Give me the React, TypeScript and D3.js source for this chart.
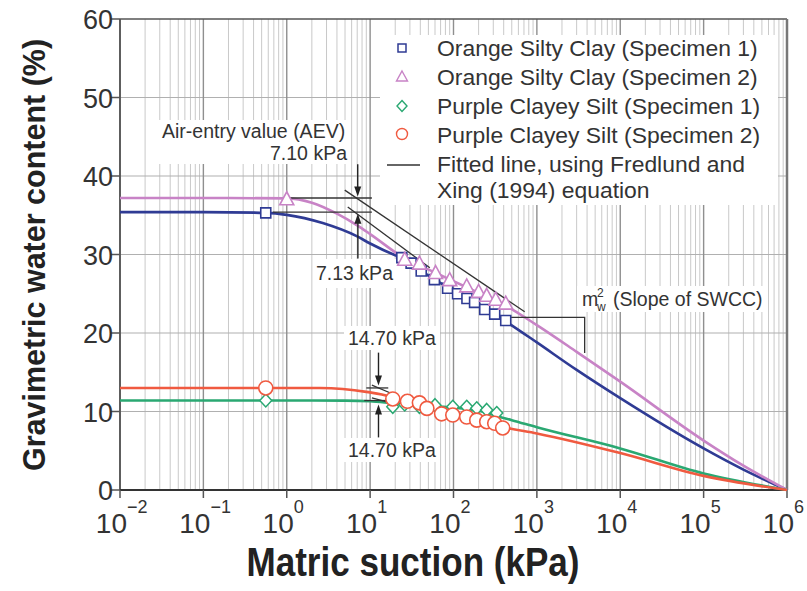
import React from 'react';
import * as d3 from 'd3';

// ---------- data (kPa, %) ----------
const blueCurve: [number, number][] = [
  [0.01, 35.4], [0.1, 35.4], [0.56, 35.3], [1, 35.05], [2.7, 34.0], [7, 32.3], [10, 31.4],
  [20, 29.9], [25, 29.5], [50, 27.3], [100, 25.4], [200, 23.7], [450, 21.3], [1000, 18.8],
  [3000, 15.3], [1e4, 11.7], [1e5, 5.3], [3e5, 2.6], [1e6, 0],
];
const pinkCurve: [number, number][] = [
  [0.01, 37.2], [0.1, 37.2], [1, 37.15], [2, 36.6], [4, 35.2], [7, 33.7], [10, 32.6],
  [26, 29.5], [60, 27.7], [100, 26.6], [200, 25.1], [420, 23.5], [1000, 21.0], [3000, 17.6],
  [1e4, 13.8], [1e5, 6.3], [3e5, 3.1], [1e6, 0],
];
const greenCurve: [number, number][] = [
  [0.01, 11.4], [1, 11.4], [5, 11.38], [10, 11.3], [17, 11.1], [30, 10.85], [100, 10.5],
  [200, 10.1], [360, 9.3], [500, 8.9], [1000, 8.0], [1e4, 5.3], [1e5, 2.1], [1e6, 0],
];
const redCurve: [number, number][] = [
  [0.01, 13.0], [1, 13.0], [2.5, 13.0], [9, 12.5], [17, 11.9], [20, 11.6], [30, 11.2],
  [40, 10.8], [70, 10.0], [100, 9.6], [200, 8.9], [400, 8.0], [1000, 7.2], [1e4, 4.7],
  [1e5, 1.8], [1e6, 0],
];

const blueSquares: [number, number][] = [
  [0.56, 35.3], [24, 29.6], [31, 28.9], [41, 27.9], [59, 26.8], [85, 25.7], [112, 25.0],
  [145, 24.4], [179, 23.9], [237, 23.0], [312, 22.4], [423, 21.6],
];
const pinkTriangles: [number, number][] = [
  [1.0, 37.0], [26, 29.3], [39, 28.8], [61, 27.6], [90, 26.7], [144, 25.9], [200, 25.2],
  [250, 24.7], [321, 24.2], [423, 23.7],
];
const greenDiamonds: [number, number][] = [
  [0.56, 11.4], [18.7, 10.6], [26, 10.9], [39, 10.6], [60, 10.8], [98, 10.6], [144, 10.6],
  [190, 10.4], [250, 10.2], [330, 9.8],
];
const redCircles: [number, number][] = [
  [0.56, 13.0], [18.7, 11.6], [28, 11.3], [39, 11.1], [48, 10.4], [72, 9.7], [98, 9.55],
  [144, 9.3], [190, 8.9], [250, 8.7], [312, 8.5], [389, 7.9],
];

// annotation construction lines (kPa, %)
const aevUpperFlat: [number, number][] = [[1.0, 37.2], [10.5, 37.2]];
const aevLowerFlat: [number, number][] = [[0.68, 35.4], [10.5, 35.4]];
const aevUpperTangent: [number, number][] = [[4.96, 38.2], [714, 22.7]];
const aevLowerTangent: [number, number][] = [[5.39, 36.05], [52, 28.3]];
const pcsUpperFlat: [number, number][] = [[9.0, 13.0], [16.5, 13.0]];
const pcsUpperTangent: [number, number][] = [[10.5, 13.35], [19, 12.2]];
const pcsLowerFlat: [number, number][] = [[8.5, 11.4], [16.5, 11.4]];
const pcsLowerTangent: [number, number][] = [[10.5, 11.75], [19, 11.0]];
const slopeLeader: [number, number][] = [[485, 22.0], [3742, 22.0], [3742, 17.45]];
// arrows: [kPa, from %, tip %]
const arrows: [number, number, number][] = [
  [7.1, 41.5, 37.4], [7.13, 29.5, 35.2], [12.6, 17.5, 13.3], [12.6, 6.7, 10.9],
];

const legendLabels = [
  'Orange Silty Clay (Specimen 1)',
  'Orange Silty Clay (Specimen 2)',
  'Purple Clayey Silt (Specimen 1)',
  'Purple Clayey Silt (Specimen 2)',
];
const fittedLabel = ['Fitted line, using Fredlund and', 'Xing (1994) equation'];
const xExponents = [-2, -1, 0, 1, 2, 3, 4, 5, 6];
const yTicks = [0, 10, 20, 30, 40, 50, 60];

const BLUE = '#2f3b94';
const PINK = '#c883c6';
const GREEN = '#2aa872';
const RED = '#f05a40';
const INK = '#333';
const FONT = 'Liberation Sans, Arial, Helvetica, sans-serif';

function sq(cx: number, cy: number, s: number) {
  return `M${cx - s / 2},${cy - s / 2}h${s}v${s}h${-s}Z`;
}
function tri(cx: number, cy: number, w: number, h: number) {
  return `M${cx},${cy - h * 0.6}L${cx + w / 2},${cy + h * 0.4}L${cx - w / 2},${cy + h * 0.4}Z`;
}
function dia(cx: number, cy: number, w: number, h: number) {
  return `M${cx},${cy - h / 2}L${cx + w / 2},${cy}L${cx},${cy + h / 2}L${cx - w / 2},${cy}Z`;
}

export default function App() {
  const x = d3.scaleLog().domain([1e-2, 1e6]).range([120, 787]);
  const y = d3.scaleLinear().domain([0, 60]).range([490, 19]);
  const line = d3.line<[number, number]>().x(d => x(d[0])).y(d => y(d[1])).curve(d3.curveMonotoneX);
  const straight = d3.line<[number, number]>().x(d => x(d[0])).y(d => y(d[1]));

  const minor: number[] = [];
  for (let e = -2; e < 6; e++) for (let k = 2; k <= 9; k++) minor.push(k * Math.pow(10, e));
  const major = xExponents.map(e => Math.pow(10, e));
  const [x0, x1] = x.range();
  const [yb, yt] = y.range();

  return (
    <svg width={807} height={591} style={{ position: 'absolute', left: 0, top: 0, background: '#fff' }}
      fontFamily={FONT}>
      <rect x={0} y={0} width={807} height={591} fill="#fff" />
      {/* grid */}
      {minor.map((v, i) => (
        <line key={'mi' + i} x1={x(v)} x2={x(v)} y1={yt} y2={yb} stroke="#c9c9c9" strokeWidth={1} />
      ))}
      {yTicks.slice(1, 6).map(v => (
        <line key={'hg' + v} x1={x0} x2={x1} y1={y(v)} y2={y(v)} stroke="#b0b0b0" strokeWidth={1.2} />
      ))}
      {major.map((v, i) => (
        <line key={'ma' + i} x1={x(v)} x2={x(v)} y1={yt} y2={yb} stroke="#8f8f8f" strokeWidth={1.4} />
      ))}
      {/* frame */}
      <line x1={x0} x2={x1} y1={yt} y2={yt} stroke="#555" strokeWidth={1.5} />
      <line x1={x1} x2={x1} y1={yt} y2={yb} stroke="#777" strokeWidth={2.5} />
      <line x1={x0} x2={x0} y1={yt} y2={yb} stroke="#555" strokeWidth={1.8} />
      <line x1={x0} x2={x1} y1={yb} y2={yb} stroke="#333" strokeWidth={1.8} />
      {/* ticks */}
      {yTicks.map(v => (
        <line key={'yt' + v} x1={x0 - 9} x2={x0} y1={y(v)} y2={y(v)} stroke="#555" strokeWidth={1.5} />
      ))}
      {major.map((v, i) => (
        <line key={'xt' + i} x1={x(v)} x2={x(v)} y1={yb} y2={yb + 8} stroke="#555" strokeWidth={1.5} />
      ))}
      {/* tick labels */}
      {yTicks.map(v => (
        <text key={'yl' + v} x={x0 - 7} y={y(v) + 10} textAnchor="end" fontSize={27} fill={INK}>{v}</text>
      ))}
      {xExponents.map(e => (
        <g key={'xl' + e}>
          <text x={x(Math.pow(10, e)) + 7} y={533} textAnchor="end" fontSize={28} fill={INK}>10</text>
          <text x={x(Math.pow(10, e)) + 7} y={513} fontSize={18} fill={INK}>{e < 0 ? '\u2212' + Math.abs(e) : String(e)}</text>
        </g>
      ))}
      {/* axis titles */}
      <text x={413} y={576} textAnchor="middle" fontSize={40} fontWeight="bold" fill="#222"
        textLength={333} lengthAdjust="spacingAndGlyphs">Matric suction (kPa)</text>
      <text transform="translate(45,255) rotate(-90)" textAnchor="middle" fontSize={30.5} fontWeight="bold"
        fill="#222">Gravimetric water content (%)</text>

      {/* white label backgrounds */}
      <rect x={380} y={35} width={398} height={170} fill="#fff" />
      <rect x={158} y={120} width={192} height={44} fill="#fff" />
      <rect x={313} y={259} width={84} height={29} fill="#fff" />
      <rect x={344} y={326} width={96} height={24} fill="#fff" />
      <rect x={344} y={438} width={96} height={24} fill="#fff" />
      <rect x={577} y={286} width={191} height={26} fill="#fff" />

      {/* fitted curves */}
      <path d={line(blueCurve) || ''} fill="none" stroke={BLUE} strokeWidth={2.6} />
      <path d={line(pinkCurve) || ''} fill="none" stroke={PINK} strokeWidth={2.6} />
      <path d={line(greenCurve) || ''} fill="none" stroke={GREEN} strokeWidth={2.6} />
      <path d={line(redCurve) || ''} fill="none" stroke={RED} strokeWidth={2.6} />

      {/* construction lines */}
      {[aevUpperFlat, aevLowerFlat, aevUpperTangent, aevLowerTangent, pcsUpperFlat, pcsUpperTangent,
        pcsLowerFlat, pcsLowerTangent, slopeLeader].map((seg, i) => (
        <path key={'cl' + i} d={straight(seg) || ''} fill="none" stroke={INK} strokeWidth={1.3} />
      ))}
      {arrows.map(([k, from, tip], i) => {
        const ax = x(k), y0 = y(from), y1 = y(tip);
        const dir = y1 > y0 ? 1 : -1;
        return (
          <g key={'ar' + i}>
            <line x1={ax} x2={ax} y1={y0} y2={y1 - dir * 8} stroke="#222" strokeWidth={1.4} />
            <path d={`M${ax},${y1}L${ax - 3.5},${y1 - dir * 10}L${ax + 3.5},${y1 - dir * 10}Z`} fill="#222" />
          </g>
        );
      })}

      {/* markers */}
      {blueSquares.map((d, i) => (
        <path key={'bs' + i} d={sq(x(d[0]), y(d[1]), 10)} fill="#fff" stroke={BLUE} strokeWidth={1.6} />
      ))}
      {pinkTriangles.map((d, i) => (
        <path key={'pt' + i} d={tri(x(d[0]), y(d[1]), 14, 13)} fill="#fff" stroke={PINK} strokeWidth={1.6} />
      ))}
      {greenDiamonds.map((d, i) => (
        <path key={'gd' + i} d={dia(x(d[0]), y(d[1]), 12, 13)} fill="#fff" stroke={GREEN} strokeWidth={1.5} />
      ))}
      {redCircles.map((d, i) => (
        <circle key={'rc' + i} cx={x(d[0])} cy={y(d[1])} r={7} fill="#fff" stroke={RED} strokeWidth={1.6} />
      ))}

      {/* annotation text */}
      <g fontSize={19.5} fill={INK}>
        <text x={162} y={138}>Air-entry value (AEV)</text>
        <text x={347} y={160} textAnchor="end">7.10 kPa</text>
        <text x={316} y={280}>7.13 kPa</text>
        <text x={348} y={345}>14.70 kPa</text>
        <text x={348} y={457}>14.70 kPa</text>
        <text x={582} y={306}>m</text>
        <text x={597} y={297} fontSize={12}>2</text>
        <text x={597} y={311} fontSize={12}>w</text>
        <text x={613} y={306}>(Slope of SWCC)</text>
      </g>

      {/* legend */}
      <g>
        <path d={sq(402, 48, 8)} fill="#fff" stroke={BLUE} strokeWidth={1.5} />
        <path d={tri(402, 77, 11, 10)} fill="#fff" stroke={PINK} strokeWidth={1.4} />
        <path d={dia(402, 106, 10, 11)} fill="#fff" stroke={GREEN} strokeWidth={1.4} />
        <circle cx={402} cy={134} r={5.5} fill="#fff" stroke={RED} strokeWidth={1.4} />
        <line x1={387} x2={420} y1={165} y2={165} stroke={INK} strokeWidth={1.6} />
        {legendLabels.map((t, i) => (
          <text key={'lg' + i} x={437} y={56 + i * 29} fontSize={22.9} fill={INK}>{t}</text>
        ))}
        <text x={437} y={172} fontSize={22.9} fill={INK}>{fittedLabel[0]}</text>
        <text x={437} y={198} fontSize={22.9} fill={INK}>{fittedLabel[1]}</text>
      </g>
    </svg>
  );
}
